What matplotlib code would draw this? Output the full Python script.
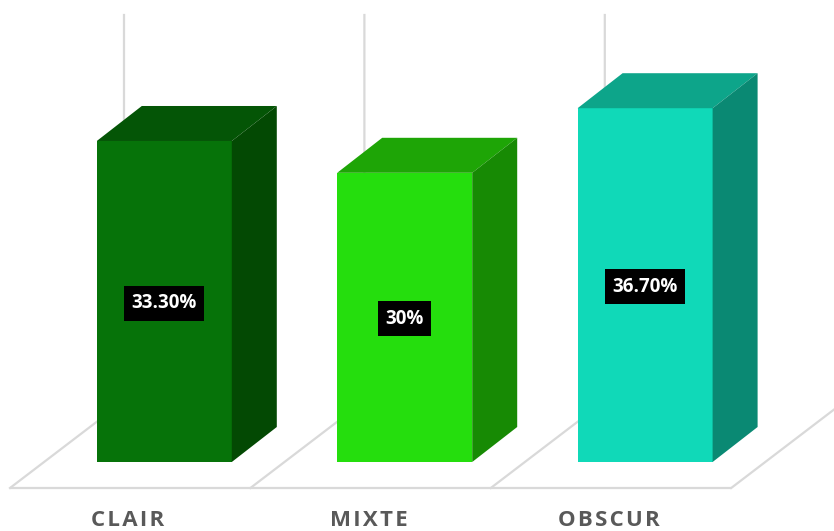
import matplotlib
matplotlib.use("Agg")
import matplotlib.pyplot as plt
from matplotlib.patches import Polygon

categories = ["CLAIR", "MIXTE", "OBSCUR"]
values = [33.3, 30.0, 36.7]
value_labels = ["33.30%", "30%", "36.70%"]
front_colors = ["#067309", "#25DE0D", "#10D9B8"]
top_colors = ["#045506", "#1EA506", "#0DA58A"]
side_colors = ["#034903", "#178A04", "#0A8973"]

W, H = 834, 531
PX_X = 240.4          # pixels per category
PX_Y = 9.64           # pixels per value unit
X0, Y0 = 164.3, 462   # pixel of category 0 / value 0

fig = plt.figure(figsize=(W / 100, H / 100), dpi=100, facecolor="white")
ax = fig.add_axes([0, 0, 1, 1])
ax.set_xlim((0 - X0) / PX_X, (W - X0) / PX_X)
ax.set_ylim((Y0 - H) / PX_Y, (Y0 - 0) / PX_Y)
ax.axis("off")

bar_w = 135 / PX_X
dx = 45 / PX_X
dy = 35 / PX_Y
grid = "#D9D9D9"
floor_front = -26 / PX_Y
floor_back = 61 / PX_Y
wall_top = 447 / PX_Y
floor_dx = 114 / PX_X
floor_left = -154.3 / PX_X

for i in range(len(categories)):
    left = i + floor_left
    ax.plot([left, left + 1], [floor_front, floor_front], color=grid, lw=1.6, zorder=1, solid_capstyle="butt")
    ax.plot([left, left + floor_dx, left + floor_dx], [floor_front, floor_back, wall_top],
            color=grid, lw=1.6, zorder=1, solid_joinstyle="miter")
right = len(categories) + floor_left
ax.plot([right, right + floor_dx], [floor_front, floor_back], color=grid, lw=1.6, zorder=1)

for i, (v, c, t, s) in enumerate(zip(values, front_colors, top_colors, side_colors)):
    xl, xr = i - bar_w / 2, i + bar_w / 2
    ax.bar(i, v, width=bar_w, color=c, linewidth=0, zorder=3)
    ax.add_patch(Polygon([(xl, v), (xr, v), (xr + dx, v + dy), (xl + dx, v + dy)], closed=True, fc=t, ec="none", zorder=3))
    ax.add_patch(Polygon([(xr, 0), (xr + dx, dy), (xr + dx, v + dy), (xr, v)], closed=True, fc=s, ec="none", zorder=3))
    ax.text(i, v / 2 + 0.1, value_labels[i], color="white", fontsize=13.5, fontweight="bold", family="Open Sans",
            ha="center", va="center_baseline", zorder=5,
            bbox=dict(boxstyle="square,pad=0.40", fc="black", ec="none"))
    ax.text(i - 36.3 / PX_X, -58.5 / PX_Y, "\u200a".join(categories[i]), color="#595959", fontsize=16, fontweight="bold",
            family="Open Sans", ha="center", va="center", zorder=5)

fig.savefig("out.png", dpi=100, facecolor="white")
